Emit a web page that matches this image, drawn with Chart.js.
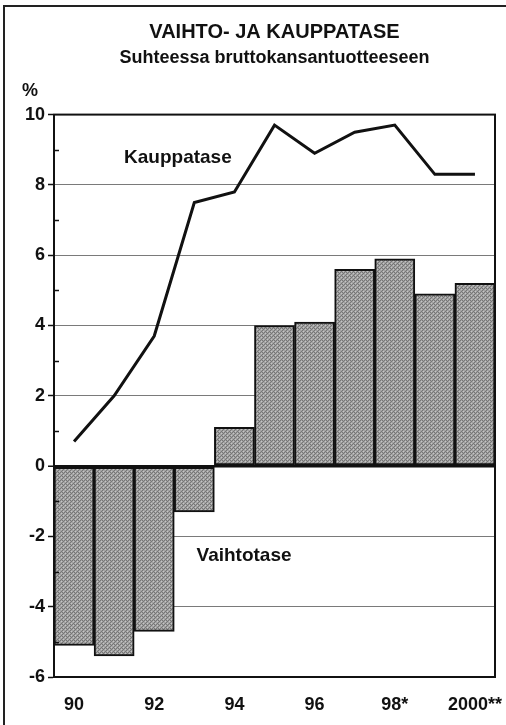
<!DOCTYPE html>
<html>
<head>
<meta charset="utf-8">
<script src="https://cdn.jsdelivr.net/npm/chart.js@4/dist/chart.umd.min.js"></script>
<style>
    html, body { margin: 0; padding: 0; background: #fff; }
    #wrap { position: relative; width: 506px; height: 725px; overflow: hidden; }
    #frame { position: absolute; left: 3px; top: 5px; width: 600px; height: 800px;
             border-left: 2px solid #222; border-top: 2px solid #222; }
    canvas { position: absolute; left: 0; top: 0; }
</style>
</head>
<body>
<div id="wrap">
    <div id="frame"></div>
    <canvas id="chartCanvas" width="506" height="725"></canvas>
</div>
<script>
// Vuodet (x-akseli)
const years = ['90', '91', '92', '93', '94', '95', '96', '97', '98*', '99', '2000**'];

// Vaihtotase, % BKT:sta (pylväät)
const vaihtotase = [-5.1, -5.4, -4.7, -1.3, 1.1, 4.0, 4.1, 5.6, 5.9, 4.9, 5.2];

// Kauppatase, % BKT:sta (viiva)
const kauppatase = [0.7, 2.0, 3.7, 7.5, 7.8, 9.7, 8.9, 9.5, 9.7, 8.3, 8.3];

// y-akselin rajat
const yMin = -6;
const yMax = 10;
const yStep = 2;

const FONT = 'Arial, "Liberation Sans", Helvetica, sans-serif';

// Halftone-style grey fill for the bars
function makeBarPattern() {
    const c = document.createElement('canvas');
    c.width = 4;
    c.height = 4;
    const g = c.getContext('2d');
    g.fillStyle = '#a2a2a2';
    g.fillRect(0, 0, 4, 4);
    g.fillStyle = '#767676';
    g.fillRect(0, 0, 1, 1);
    g.fillRect(2, 2, 1, 1);
    g.fillRect(2, 0, 1, 1);
    g.fillRect(1, 3, 1, 1);
    g.fillRect(3, 1, 1, 1);
    g.fillStyle = '#c4c4c4';
    g.fillRect(1, 1, 1, 1);
    g.fillRect(3, 3, 1, 1);
    return g.createPattern(c, 'repeat');
}

// Labels, minor ticks and the plot frame
const decorPlugin = {
    id: 'decor',
    afterDatasetsDraw(chart) {
        const { ctx, chartArea, scales } = chart;
        const x = scales.x;
        const y = scales.y;
        ctx.save();

        // plot frame
        ctx.strokeStyle = '#111';
        ctx.lineWidth = 2;
        ctx.strokeRect(chartArea.left, chartArea.top,
            chartArea.right - chartArea.left, chartArea.bottom - chartArea.top);

        // minor ticks at odd values
        ctx.lineWidth = 1.5;
        for (let v = yMin + 1; v < yMax; v += yStep) {
            const py = Math.round(y.getPixelForValue(v)) + 0.5;
            ctx.beginPath();
            ctx.moveTo(chartArea.left, py);
            ctx.lineTo(chartArea.left + 5, py);
            ctx.stroke();
        }

        // series names
        ctx.fillStyle = '#111';
        ctx.font = 'bold 19px ' + FONT;
        ctx.textAlign = 'center';
        ctx.textBaseline = 'middle';
        ctx.fillText('Kauppatase', x.getPixelForValue(2.59), y.getPixelForValue(8.77));
        ctx.fillText('Vaihtotase', x.getPixelForValue(4.24), y.getPixelForValue(-2.56));

        // unit label
        ctx.font = 'bold 18px ' + FONT;
        ctx.fillText('%', chartArea.left - 24, chartArea.top - 24);
        ctx.restore();
    }
};

const ctx = document.getElementById('chartCanvas');

new Chart(ctx, {
    data: {
        labels: years,
        datasets: [
            {
                type: 'line',
                label: 'Kauppatase',
                data: kauppatase,
                borderColor: '#111',
                borderWidth: 3,
                pointRadius: 0,
                tension: 0,
                order: 0
            },
            {
                type: 'bar',
                label: 'Vaihtotase',
                data: vaihtotase,
                backgroundColor: makeBarPattern(),
                borderColor: '#111',
                borderWidth: 2,
                borderSkipped: false,
                barPercentage: 1,
                categoryPercentage: 1,
                order: 1
            }
        ]
    },
    options: {
        responsive: false,
        animation: false,
        layout: {
            padding: { left: 0, right: 11, top: 0, bottom: 0 }
        },
        plugins: {
            legend: { display: false },
            tooltip: { enabled: false },
            title: {
                display: true,
                fullSize: false,
                text: 'VAIHTO- JA KAUPPATASE',
                color: '#111',
                font: { family: FONT, size: 20, weight: 'bold', lineHeight: 1.2 },
                padding: { top: 20, bottom: 2 }
            },
            subtitle: {
                display: true,
                fullSize: false,
                text: 'Suhteessa bruttokansantuotteeseen',
                color: '#111',
                font: { family: FONT, size: 18, weight: 'bold', lineHeight: 1.2 },
                padding: { top: 1, bottom: 46 }
            }
        },
        scales: {
            x: {
                grid: { display: false },
                border: { display: false },
                afterFit(scale) {
                    scale.height = 48;
                    scale.paddingLeft = 0;
                    scale.paddingRight = 0;
                },
                ticks: {
                    autoSkip: false,
                    maxRotation: 0,
                    padding: 9,
                    color: '#111',
                    font: { family: FONT, size: 18, weight: 'bold' },
                    callback(value, index) {
                        return index % 2 === 0 ? this.getLabelForValue(value) : '';
                    }
                }
            },
            y: {
                min: yMin,
                max: yMax,
                afterFit(scale) { scale.width = 54; },
                border: { display: true, color: '#111', width: 2 },
                grid: {
                    color: c => (c.tick && c.tick.value === 0 ? '#111' : '#7a7a7a'),
                    lineWidth: c => (c.tick && c.tick.value === 0 ? 2.5 : 1),
                    tickColor: '#111',
                    tickLength: 6,
                    tickWidth: 1.5
                },
                ticks: {
                    stepSize: yStep,
                    padding: 3,
                    color: '#111',
                    font: { family: FONT, size: 18, weight: 'bold' }
                }
            }
        }
    },
    plugins: [decorPlugin]
});
</script>
</body>
</html>
